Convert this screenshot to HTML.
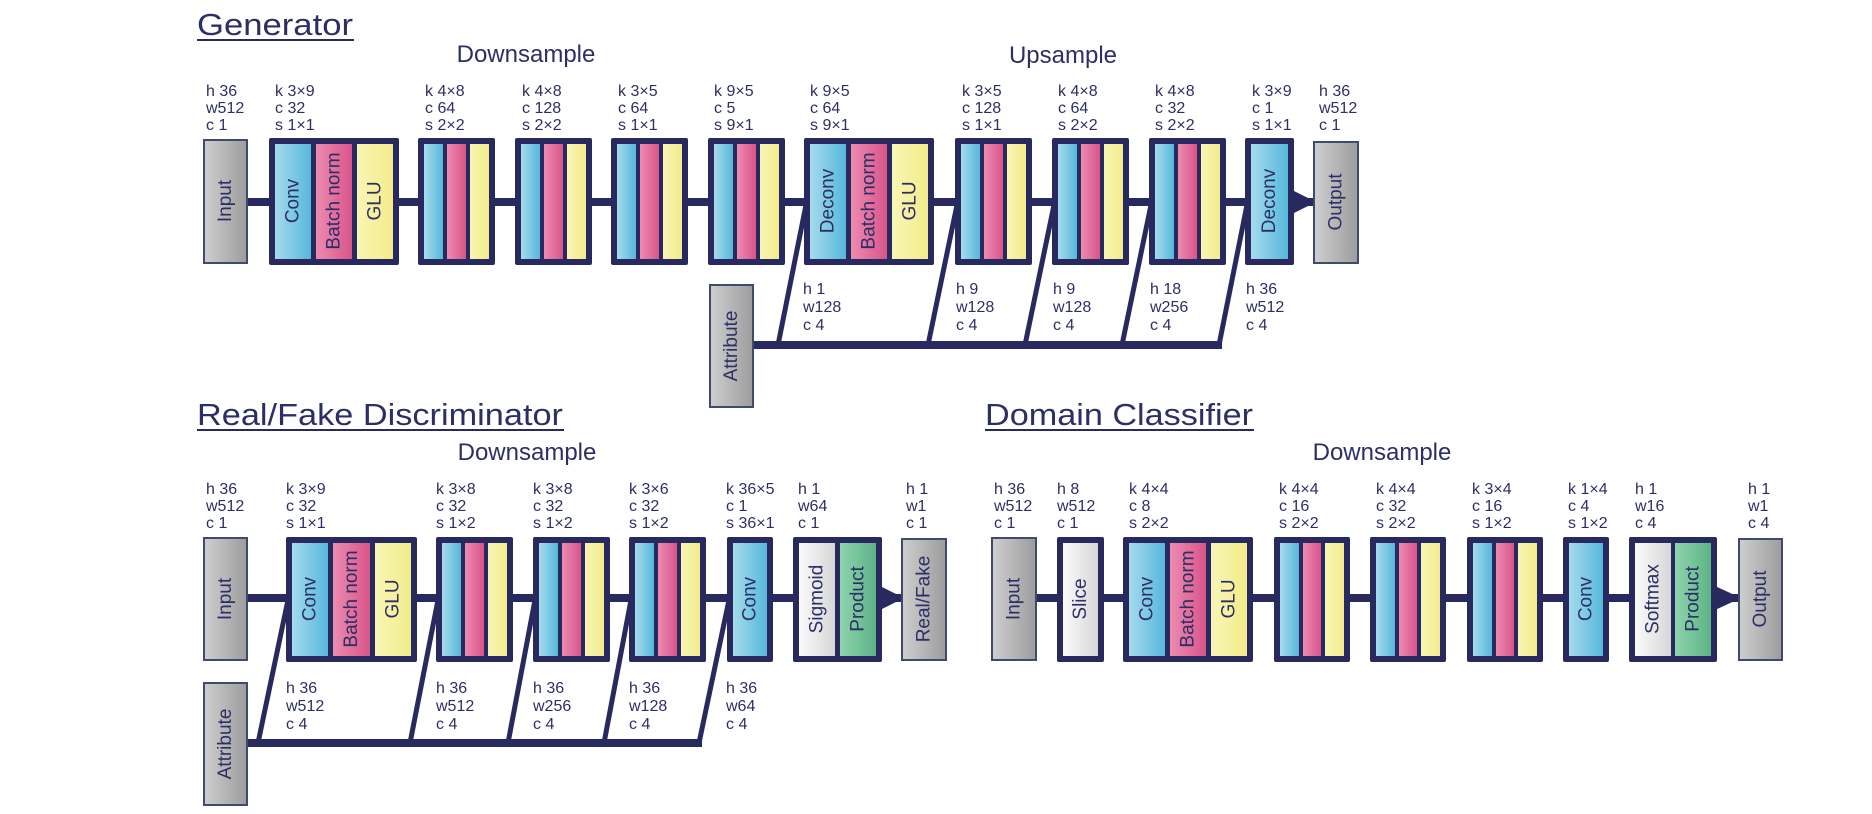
<!DOCTYPE html>
<html><head><meta charset="utf-8"><style>
html,body{margin:0;padding:0;background:#fff;}
svg{display:block;}
text{font-family:"Liberation Sans",sans-serif;fill:#2c2f66;}
.l{font-size:16px;font-weight:500;}
.v{font-size:19px;}
.t{font-size:31px;}
.s{font-size:24px;}
</style></head><body>
<svg width="1872" height="814" viewBox="0 0 1872 814" xmlns="http://www.w3.org/2000/svg">
<defs>
<linearGradient id="gb" x1="0" y1="0" x2="1" y2="0"><stop offset="0" stop-color="#a6dbec"/><stop offset="1" stop-color="#56b7dc"/></linearGradient>
<linearGradient id="gp" x1="0" y1="0" x2="1" y2="0"><stop offset="0" stop-color="#ec8bb0"/><stop offset="1" stop-color="#d9558a"/></linearGradient>
<linearGradient id="gy" x1="0" y1="0" x2="1" y2="0"><stop offset="0" stop-color="#f8f5b5"/><stop offset="1" stop-color="#f3ec8a"/></linearGradient>
<linearGradient id="gg" x1="0" y1="0" x2="1" y2="0"><stop offset="0" stop-color="#cfcfcf"/><stop offset="1" stop-color="#9c9c9c"/></linearGradient>
<linearGradient id="gw" x1="0" y1="0" x2="1" y2="0"><stop offset="0" stop-color="#fbfbfb"/><stop offset="1" stop-color="#d6d6d6"/></linearGradient>
<linearGradient id="gn" x1="0" y1="0" x2="1" y2="0"><stop offset="0" stop-color="#8fd3ad"/><stop offset="1" stop-color="#5cb386"/></linearGradient>
</defs>

<g fill="#27295f" stroke="none">
<rect x="247" y="198" width="1067" height="8"/>
<polygon points="1292,190 1316,202 1292,214"/>
<rect x="753" y="341" width="469" height="8"/>
</g>
<g stroke="#27295f" stroke-width="5" fill="none">
<line x1="778" y1="345" x2="806" y2="205"/>
<line x1="928" y1="345" x2="957" y2="205"/>
<line x1="1025" y1="345" x2="1054" y2="205"/>
<line x1="1122" y1="345" x2="1151" y2="205"/>
<line x1="1219" y1="345" x2="1247" y2="205"/>
</g>

<g stroke="#3e4a6e" stroke-width="2">
<rect x="204" y="140" width="43" height="123" fill="url(#gg)"/>
<rect x="1314" y="142" width="44" height="121" fill="url(#gg)"/>
<rect x="710" y="285" width="43" height="122" fill="url(#gg)"/>
</g>

<g fill="#27295f">
<rect x="269" y="138" width="130" height="127" rx="2"/>
<rect x="418" y="138" width="77" height="127" rx="2"/>
<rect x="515" y="138" width="77" height="127" rx="2"/>
<rect x="611" y="138" width="77" height="127" rx="2"/>
<rect x="708" y="138" width="77" height="127" rx="2"/>
<rect x="804" y="138" width="130" height="127" rx="2"/>
<rect x="955" y="138" width="77" height="127" rx="2"/>
<rect x="1052" y="138" width="77" height="127" rx="2"/>
<rect x="1149" y="138" width="77" height="127" rx="2"/>
<rect x="1245" y="138" width="49" height="127" rx="2"/>
</g>
<g>
<rect x="275" y="144" width="36" height="115" fill="url(#gb)"/><rect x="316" y="144" width="36" height="115" fill="url(#gp)"/><rect x="357" y="144" width="36" height="115" fill="url(#gy)"/>
<rect x="424" y="144" width="19" height="115" fill="url(#gb)"/><rect x="447" y="144" width="19" height="115" fill="url(#gp)"/><rect x="470" y="144" width="19" height="115" fill="url(#gy)"/>
<rect x="521" y="144" width="19" height="115" fill="url(#gb)"/><rect x="544" y="144" width="19" height="115" fill="url(#gp)"/><rect x="567" y="144" width="19" height="115" fill="url(#gy)"/>
<rect x="617" y="144" width="19" height="115" fill="url(#gb)"/><rect x="640" y="144" width="19" height="115" fill="url(#gp)"/><rect x="663" y="144" width="19" height="115" fill="url(#gy)"/>
<rect x="714" y="144" width="19" height="115" fill="url(#gb)"/><rect x="737" y="144" width="19" height="115" fill="url(#gp)"/><rect x="760" y="144" width="19" height="115" fill="url(#gy)"/>
<rect x="810" y="144" width="36" height="115" fill="url(#gb)"/><rect x="851" y="144" width="36" height="115" fill="url(#gp)"/><rect x="892" y="144" width="36" height="115" fill="url(#gy)"/>
<rect x="961" y="144" width="19" height="115" fill="url(#gb)"/><rect x="984" y="144" width="19" height="115" fill="url(#gp)"/><rect x="1007" y="144" width="19" height="115" fill="url(#gy)"/>
<rect x="1058" y="144" width="19" height="115" fill="url(#gb)"/><rect x="1081" y="144" width="19" height="115" fill="url(#gp)"/><rect x="1104" y="144" width="19" height="115" fill="url(#gy)"/>
<rect x="1155" y="144" width="19" height="115" fill="url(#gb)"/><rect x="1178" y="144" width="19" height="115" fill="url(#gp)"/><rect x="1201" y="144" width="19" height="115" fill="url(#gy)"/>
<rect x="1251" y="144" width="37" height="115" fill="url(#gb)"/>
</g>
<g class="v" text-anchor="middle" dominant-baseline="central">
<text transform="translate(225.5,201) rotate(-90)">Input</text>
<text transform="translate(293,201) rotate(-90)">Conv</text>
<text transform="translate(334,201) rotate(-90)">Batch norm</text>
<text transform="translate(375,201) rotate(-90)">GLU</text>
<text transform="translate(828,201) rotate(-90)">Deconv</text>
<text transform="translate(869,201) rotate(-90)">Batch norm</text>
<text transform="translate(910,201) rotate(-90)">GLU</text>
<text transform="translate(1269.5,201) rotate(-90)">Deconv</text>
<text transform="translate(1336,202) rotate(-90)">Output</text>
<text transform="translate(731.5,346) rotate(-90)">Attribute</text>
</g>

<text class="t" x="197" y="35" textLength="156" lengthAdjust="spacingAndGlyphs">Generator</text>
<rect x="197" y="39" width="157" height="2" fill="#27295f"/>
<text class="s" x="526" y="62" text-anchor="middle">Downsample</text>
<text class="s" x="1063" y="63" text-anchor="middle">Upsample</text>

<g class="l">
<text x="206" y="96"><tspan x="206">h 36</tspan><tspan x="206" dy="17">w512</tspan><tspan x="206" dy="17">c 1</tspan></text>
<text y="96"><tspan x="275">k 3×9</tspan><tspan x="275" dy="17">c 32</tspan><tspan x="275" dy="17">s 1×1</tspan></text>
<text y="96"><tspan x="425">k 4×8</tspan><tspan x="425" dy="17">c 64</tspan><tspan x="425" dy="17">s 2×2</tspan></text>
<text y="96"><tspan x="522">k 4×8</tspan><tspan x="522" dy="17">c 128</tspan><tspan x="522" dy="17">s 2×2</tspan></text>
<text y="96"><tspan x="618">k 3×5</tspan><tspan x="618" dy="17">c 64</tspan><tspan x="618" dy="17">s 1×1</tspan></text>
<text y="96"><tspan x="714">k 9×5</tspan><tspan x="714" dy="17">c 5</tspan><tspan x="714" dy="17">s 9×1</tspan></text>
<text y="96"><tspan x="810">k 9×5</tspan><tspan x="810" dy="17">c 64</tspan><tspan x="810" dy="17">s 9×1</tspan></text>
<text y="96"><tspan x="962">k 3×5</tspan><tspan x="962" dy="17">c 128</tspan><tspan x="962" dy="17">s 1×1</tspan></text>
<text y="96"><tspan x="1058">k 4×8</tspan><tspan x="1058" dy="17">c 64</tspan><tspan x="1058" dy="17">s 2×2</tspan></text>
<text y="96"><tspan x="1155">k 4×8</tspan><tspan x="1155" dy="17">c 32</tspan><tspan x="1155" dy="17">s 2×2</tspan></text>
<text y="96"><tspan x="1252">k 3×9</tspan><tspan x="1252" dy="17">c 1</tspan><tspan x="1252" dy="17">s 1×1</tspan></text>
<text y="96"><tspan x="1319">h 36</tspan><tspan x="1319" dy="17">w512</tspan><tspan x="1319" dy="17">c 1</tspan></text>

<text y="294"><tspan x="803">h 1</tspan><tspan x="803" dy="18">w128</tspan><tspan x="803" dy="18">c 4</tspan></text>
<text y="294"><tspan x="956">h 9</tspan><tspan x="956" dy="18">w128</tspan><tspan x="956" dy="18">c 4</tspan></text>
<text y="294"><tspan x="1053">h 9</tspan><tspan x="1053" dy="18">w128</tspan><tspan x="1053" dy="18">c 4</tspan></text>
<text y="294"><tspan x="1150">h 18</tspan><tspan x="1150" dy="18">w256</tspan><tspan x="1150" dy="18">c 4</tspan></text>
<text y="294"><tspan x="1246">h 36</tspan><tspan x="1246" dy="18">w512</tspan><tspan x="1246" dy="18">c 4</tspan></text>
</g>

<g fill="#27295f">
<rect x="247" y="594" width="655" height="8"/>
<polygon points="880,586 904,598 880,610"/>
<rect x="247" y="739" width="455" height="8"/>
</g>
<g stroke="#27295f" stroke-width="5" fill="none">
<line x1="258" y1="743" x2="288" y2="600"/>
<line x1="410" y1="743" x2="438" y2="600"/>
<line x1="508" y1="743" x2="535" y2="600"/>
<line x1="604" y1="743" x2="631" y2="600"/>
<line x1="699" y1="743" x2="729" y2="600"/>
</g>
<g stroke="#3e4a6e" stroke-width="2">
<rect x="204" y="538" width="43" height="122" fill="url(#gg)"/>
<rect x="204" y="683" width="43" height="122" fill="url(#gg)"/>
<rect x="902" y="539" width="44" height="121" fill="url(#gg)"/>
</g>
<g fill="#27295f">
<rect x="286" y="537" width="131" height="125" rx="2"/>
<rect x="436" y="537" width="77" height="125" rx="2"/>
<rect x="533" y="537" width="77" height="125" rx="2"/>
<rect x="629" y="537" width="77" height="125" rx="2"/>
<rect x="727" y="537" width="46" height="125" rx="2"/>
<rect x="793" y="537" width="89" height="125" rx="2"/>
</g>
<g>
<rect x="292" y="543" width="36" height="113" fill="url(#gb)"/><rect x="333" y="543" width="37" height="113" fill="url(#gp)"/><rect x="375" y="543" width="36" height="113" fill="url(#gy)"/>
<rect x="442" y="543" width="19" height="113" fill="url(#gb)"/><rect x="465" y="543" width="19" height="113" fill="url(#gp)"/><rect x="488" y="543" width="19" height="113" fill="url(#gy)"/>
<rect x="539" y="543" width="19" height="113" fill="url(#gb)"/><rect x="562" y="543" width="19" height="113" fill="url(#gp)"/><rect x="585" y="543" width="19" height="113" fill="url(#gy)"/>
<rect x="635" y="543" width="19" height="113" fill="url(#gb)"/><rect x="658" y="543" width="19" height="113" fill="url(#gp)"/><rect x="681" y="543" width="19" height="113" fill="url(#gy)"/>
<rect x="733" y="543" width="34" height="113" fill="url(#gb)"/>
<rect x="799" y="543" width="36" height="113" fill="url(#gw)"/><rect x="840" y="543" width="36" height="113" fill="url(#gn)"/>
</g>
<g class="v" text-anchor="middle" dominant-baseline="central">
<text transform="translate(225.5,599) rotate(-90)">Input</text>
<text transform="translate(225.5,744) rotate(-90)">Attribute</text>
<text transform="translate(310,599) rotate(-90)">Conv</text>
<text transform="translate(351.5,599) rotate(-90)">Batch norm</text>
<text transform="translate(393,599) rotate(-90)">GLU</text>
<text transform="translate(750,599) rotate(-90)">Conv</text>
<text transform="translate(817,599) rotate(-90)">Sigmoid</text>
<text transform="translate(858,599) rotate(-90)">Product</text>
<text transform="translate(924,599) rotate(-90)">Real/Fake</text>
</g>
<text class="t" x="197" y="425" textLength="366" lengthAdjust="spacingAndGlyphs">Real/Fake Discriminator</text>
<rect x="197" y="429" width="367" height="2" fill="#27295f"/>
<text class="s" x="527" y="460" text-anchor="middle">Downsample</text>
<g class="l">
<text y="494"><tspan x="206">h 36</tspan><tspan x="206" dy="17">w512</tspan><tspan x="206" dy="17">c 1</tspan></text>
<text y="494"><tspan x="286">k 3×9</tspan><tspan x="286" dy="17">c 32</tspan><tspan x="286" dy="17">s 1×1</tspan></text>
<text y="494"><tspan x="436">k 3×8</tspan><tspan x="436" dy="17">c 32</tspan><tspan x="436" dy="17">s 1×2</tspan></text>
<text y="494"><tspan x="533">k 3×8</tspan><tspan x="533" dy="17">c 32</tspan><tspan x="533" dy="17">s 1×2</tspan></text>
<text y="494"><tspan x="629">k 3×6</tspan><tspan x="629" dy="17">c 32</tspan><tspan x="629" dy="17">s 1×2</tspan></text>
<text y="494"><tspan x="726">k 36×5</tspan><tspan x="726" dy="17">c 1</tspan><tspan x="726" dy="17">s 36×1</tspan></text>
<text y="494"><tspan x="798">h 1</tspan><tspan x="798" dy="17">w64</tspan><tspan x="798" dy="17">c 1</tspan></text>
<text y="494"><tspan x="906">h 1</tspan><tspan x="906" dy="17">w1</tspan><tspan x="906" dy="17">c 1</tspan></text>
<text y="693"><tspan x="286">h 36</tspan><tspan x="286" dy="18">w512</tspan><tspan x="286" dy="18">c 4</tspan></text>
<text y="693"><tspan x="436">h 36</tspan><tspan x="436" dy="18">w512</tspan><tspan x="436" dy="18">c 4</tspan></text>
<text y="693"><tspan x="533">h 36</tspan><tspan x="533" dy="18">w256</tspan><tspan x="533" dy="18">c 4</tspan></text>
<text y="693"><tspan x="629">h 36</tspan><tspan x="629" dy="18">w128</tspan><tspan x="629" dy="18">c 4</tspan></text>
<text y="693"><tspan x="726">h 36</tspan><tspan x="726" dy="18">w64</tspan><tspan x="726" dy="18">c 4</tspan></text>
</g>

<g fill="#27295f">
<rect x="1036" y="594" width="703" height="8"/>
<polygon points="1715,586 1741,598 1715,610"/>
</g>
<g stroke="#3e4a6e" stroke-width="2">
<rect x="992" y="538" width="44" height="122" fill="url(#gg)"/>
<rect x="1739" y="539" width="43" height="121" fill="url(#gg)"/>
</g>
<g fill="#27295f">
<rect x="1057" y="537" width="47" height="125" rx="2"/>
<rect x="1123" y="537" width="130" height="125" rx="2"/>
<rect x="1274" y="537" width="76" height="125" rx="2"/>
<rect x="1370" y="537" width="76" height="125" rx="2"/>
<rect x="1467" y="537" width="76" height="125" rx="2"/>
<rect x="1563" y="537" width="46" height="125" rx="2"/>
<rect x="1629" y="537" width="88" height="125" rx="2"/>
</g>
<g>
<rect x="1063" y="543" width="35" height="113" fill="url(#gw)"/>
<rect x="1129" y="543" width="36" height="113" fill="url(#gb)"/><rect x="1170" y="543" width="36" height="113" fill="url(#gp)"/><rect x="1211" y="543" width="36" height="113" fill="url(#gy)"/>
<rect x="1280" y="543" width="19" height="113" fill="url(#gb)"/><rect x="1303" y="543" width="18" height="113" fill="url(#gp)"/><rect x="1325" y="543" width="19" height="113" fill="url(#gy)"/>
<rect x="1376" y="543" width="19" height="113" fill="url(#gb)"/><rect x="1399" y="543" width="18" height="113" fill="url(#gp)"/><rect x="1421" y="543" width="19" height="113" fill="url(#gy)"/>
<rect x="1473" y="543" width="19" height="113" fill="url(#gb)"/><rect x="1496" y="543" width="18" height="113" fill="url(#gp)"/><rect x="1518" y="543" width="19" height="113" fill="url(#gy)"/>
<rect x="1569" y="543" width="34" height="113" fill="url(#gb)"/>
<rect x="1635" y="543" width="36" height="113" fill="url(#gw)"/><rect x="1675" y="543" width="36" height="113" fill="url(#gn)"/>
</g>
<g class="v" text-anchor="middle" dominant-baseline="central">
<text transform="translate(1014,599) rotate(-90)">Input</text>
<text transform="translate(1080.5,599) rotate(-90)">Slice</text>
<text transform="translate(1147,599) rotate(-90)">Conv</text>
<text transform="translate(1188,599) rotate(-90)">Batch norm</text>
<text transform="translate(1229,599) rotate(-90)">GLU</text>
<text transform="translate(1586,599) rotate(-90)">Conv</text>
<text transform="translate(1653,599) rotate(-90)">Softmax</text>
<text transform="translate(1693,599) rotate(-90)">Product</text>
<text transform="translate(1760.5,599) rotate(-90)">Output</text>
</g>
<text class="t" x="985" y="425" textLength="268" lengthAdjust="spacingAndGlyphs">Domain Classifier</text>
<rect x="985" y="429" width="269" height="2" fill="#27295f"/>
<text class="s" x="1382" y="460" text-anchor="middle">Downsample</text>
<g class="l">
<text y="494"><tspan x="994">h 36</tspan><tspan x="994" dy="17">w512</tspan><tspan x="994" dy="17">c 1</tspan></text>
<text y="494"><tspan x="1057">h 8</tspan><tspan x="1057" dy="17">w512</tspan><tspan x="1057" dy="17">c 1</tspan></text>
<text y="494"><tspan x="1129">k 4×4</tspan><tspan x="1129" dy="17">c 8</tspan><tspan x="1129" dy="17">s 2×2</tspan></text>
<text y="494"><tspan x="1279">k 4×4</tspan><tspan x="1279" dy="17">c 16</tspan><tspan x="1279" dy="17">s 2×2</tspan></text>
<text y="494"><tspan x="1376">k 4×4</tspan><tspan x="1376" dy="17">c 32</tspan><tspan x="1376" dy="17">s 2×2</tspan></text>
<text y="494"><tspan x="1472">k 3×4</tspan><tspan x="1472" dy="17">c 16</tspan><tspan x="1472" dy="17">s 1×2</tspan></text>
<text y="494"><tspan x="1568">k 1×4</tspan><tspan x="1568" dy="17">c 4</tspan><tspan x="1568" dy="17">s 1×2</tspan></text>
<text y="494"><tspan x="1635">h 1</tspan><tspan x="1635" dy="17">w16</tspan><tspan x="1635" dy="17">c 4</tspan></text>
<text y="494"><tspan x="1748">h 1</tspan><tspan x="1748" dy="17">w1</tspan><tspan x="1748" dy="17">c 4</tspan></text>
</g>
</svg>
</body></html>
